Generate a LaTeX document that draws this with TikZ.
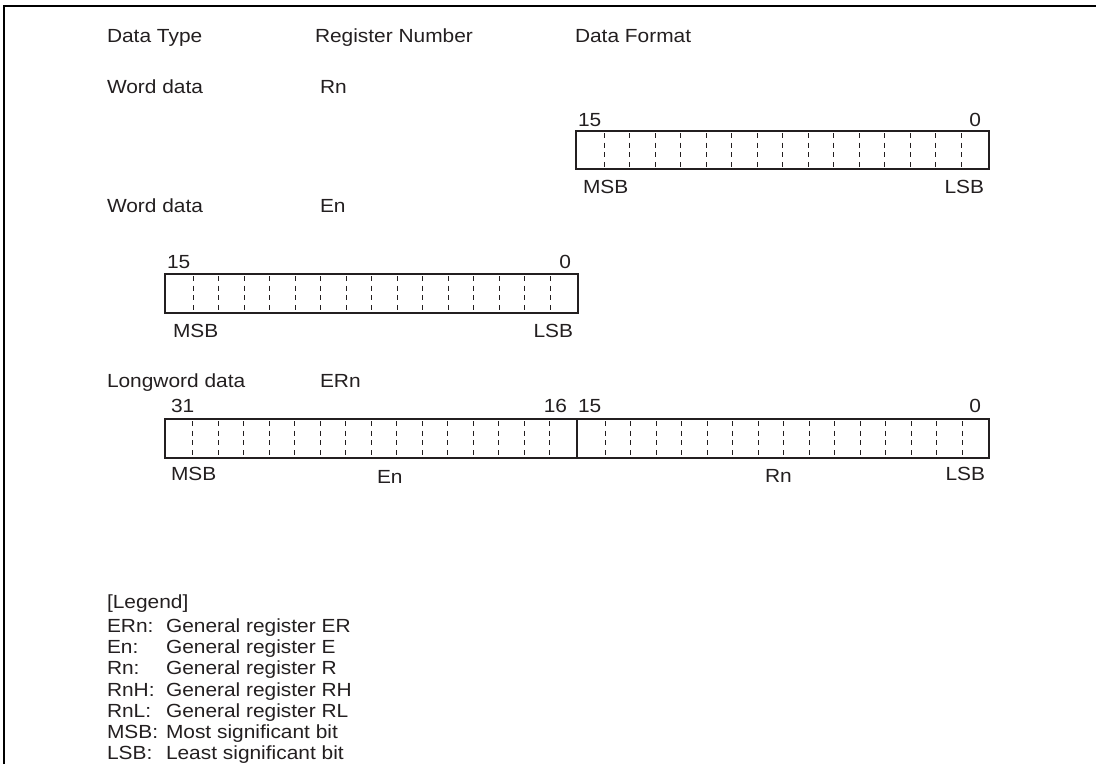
\documentclass[tikz,border=0pt]{standalone}
\usepackage{fontspec}
\setmainfont{Liberation Sans}[FakeStretch=1.1]
\definecolor{ink}{HTML}{231F20}
\newcommand\dashcells[3]{%
  \foreach \k in {0,...,14}{\draw[bitdash] ({#1+28.3+25.48*\k},{#2+2}) -- ({#1+28.3+25.48*\k},{#3});}}
\begin{document}
\begin{tikzpicture}[x=1pt,y=-1pt,
  txt/.style={inner sep=0pt,outer sep=0pt,text=ink,font=\fontsize{19}{22}\selectfont,anchor=base west},
  rtxt/.style={txt,anchor=base east},
  frame/.style={draw=black,line width=2.3pt},
  regbox/.style={draw=ink,line width=2pt},
  bitdash/.style={draw=ink,line width=1pt,dash pattern=on 5pt off 4.7pt}]
\useasboundingbox (0,0) rectangle (1096,764);
% partial frame
\draw[frame] (4.2,764) -- (4.2,5.7) -- (1096,5.7);
% headers
\node[txt] (hType) at (107,42) {Data Type};
\node[txt] (hReg) at (315,42) {Register Number};
\node[txt] (hFmt) at (575,42) {Data Format};
% row 1
\node[txt] (t1) at (107,93) {Word data};
\node[txt] (r1) at (320,93) {Rn};
\draw[regbox] (576,131) rectangle (989,169);
\dashcells{576}{131}{169}
\node[txt] (b1h) at (578,126) {15};
\node[rtxt] (b1l) at (981,126) {0};
\node[txt] (b1m) at (583,193) {MSB};
\node[rtxt] (b1s) at (984,193) {LSB};
% row 2
\node[txt] (t2) at (107,212) {Word data};
\node[txt] (r2) at (320,212) {En};
\draw[regbox] (165,274) rectangle (578,313);
\dashcells{165}{274}{313}
\node[txt] (b2h) at (167,268) {15};
\node[rtxt] (b2l) at (571,268) {0};
\node[txt] (b2m) at (173,337) {MSB};
\node[rtxt] (b2s) at (573,337) {LSB};
% row 3
\node[txt] (t3) at (107,387) {Longword data};
\node[txt] (r3) at (320,387) {ERn};
\draw[regbox] (164.5,419) rectangle (989,457.5);
\draw[regbox] (577,419) -- (577,457.5);
\dashcells{164.5}{419}{457.5}
\dashcells{577}{419}{457.5}
\node[txt] (b3a) at (171,412) {31};
\node[rtxt] (b3b) at (567,412) {16};
\node[txt] (b3c) at (578,412) {15};
\node[rtxt] (b3d) at (981,412) {0};
\node[txt] (b3m) at (171,480) {MSB};
\node[txt] (b3e) at (377,483) {En};
\node[txt] (b3r) at (765,482) {Rn};
\node[rtxt] (b3s) at (985,480) {LSB};
% legend
\node[txt] (lg) at (107,608) {[Legend]};
\node[txt] (l1a) at (107,632) {ERn:};  \node[txt] (l1b) at (166,632) {General register ER};
\node[txt] (l2a) at (107,653) {En:};   \node[txt] (l2b) at (166,653) {General register E};
\node[txt] (l3a) at (107,674) {Rn:};   \node[txt] (l3b) at (166,674) {General register R};
\node[txt] (l4a) at (107,696) {RnH:};  \node[txt] (l4b) at (166,696) {General register RH};
\node[txt] (l5a) at (107,717) {RnL:};  \node[txt] (l5b) at (166,717) {General register RL};
\node[txt] (l6a) at (107,738) {MSB:};  \node[txt] (l6b) at (166,738) {Most significant bit};
\node[txt] (l7a) at (107,759) {LSB:};  \node[txt] (l7b) at (166,759) {Least significant bit};
\end{tikzpicture}
\end{document}
